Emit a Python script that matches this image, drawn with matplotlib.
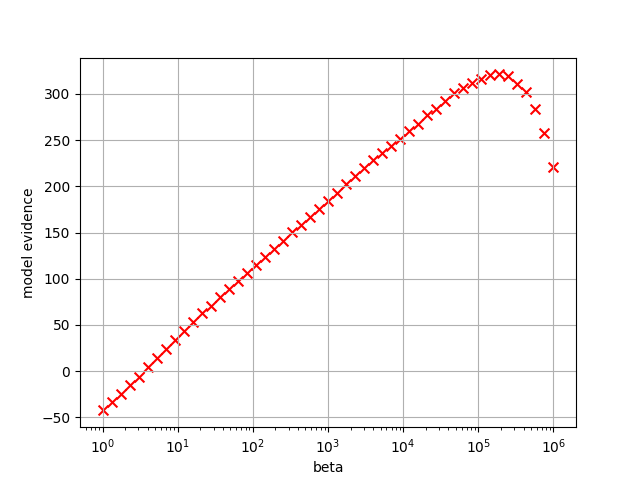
import numpy as np
import matplotlib
matplotlib.use("Agg")
import matplotlib.pyplot as plt

beta = np.logspace(0, 6, 51)
evidence = [
    -42.5, -33.0, -25.0, -15.0, -6.0, 4.5, 14.5, 24.0, 33.8, 43.0,
    53.5, 63.0, 71.0, 80.0, 89.0, 97.9, 106.5, 114.8, 123.2, 132.3,
    141.2, 150.2, 158.5, 167.2, 175.5, 184.3, 192.9, 202.6, 210.8, 219.5,
    228.5, 235.7, 244.0, 251.6, 259.7, 268.0, 277.0, 284.0, 292.8, 301.0,
    306.0, 311.7, 316.5, 320.7, 321.2, 319.0, 311.2, 301.7, 284.0, 258.2,
    220.6,
]

fig, ax = plt.subplots(figsize=(6.4, 4.8), dpi=100)
ax.scatter(beta, evidence, marker='x', c='r', s=50)
ax.set_xscale('log')
ax.set_xlabel('beta')
ax.set_ylabel('model evidence')
ax.grid(True)
fig.savefig('out.png')
